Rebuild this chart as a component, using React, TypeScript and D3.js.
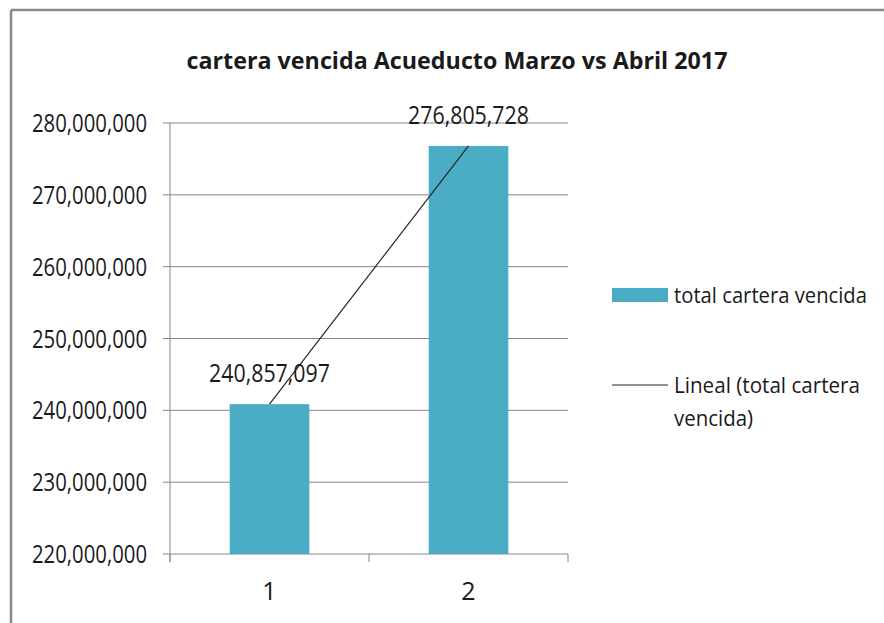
import React from "react";
import * as d3 from "d3";

const categories = ["1", "2"];
const values = [240857097, 276805728];
const yTicks = [220000000, 230000000, 240000000, 250000000, 260000000, 270000000, 280000000];
const title = "cartera vencida Acueducto Marzo vs Abril 2017";
const seriesName = "total cartera vencida";
const trendName = ["Lineal (total cartera", "vencida)"];

const FONT = "'Open Sans', 'DejaVu Sans Condensed', sans-serif";
const BAR = "#4BACC6";
const GRID = "#868686";
const TXT = "#1a1a1a";

export default function App() {
  const W = 884, H = 623;
  const left = 170, right = 568, top = 123, bottom = 554;
  const y = d3.scaleLinear().domain([220000000, 280000000]).range([bottom, top]);
  const x = d3.scaleBand().domain(categories).range([left, right]).paddingInner(0.6).paddingOuter(0.3);
  const fmt = d3.format(",");

  // linear trend (least squares over index 1..n)
  const xs = categories.map((_, i) => i + 1);
  const mx = d3.mean(xs)!;
  const my = d3.mean(values)!;
  const slope = d3.sum(xs.map((xi, i) => (xi - mx) * (values[i] - my))) / d3.sum(xs.map((xi) => (xi - mx) ** 2));
  const icpt = my - slope * mx;
  const trendPts = categories.map((c, i) => [x(c)! + x.bandwidth() / 2, y(icpt + slope * (i + 1))] as [number, number]);
  const line = d3.line();

  const xTickPos = [left, ...categories.slice(1).map((c, i) => (x(c)! + x(categories[i])! + x.bandwidth()) / 2), right];

  return (
    <svg width={W} height={H} style={{ position: "absolute", left: 0, top: 0, background: "#fff" }} fontFamily={FONT}>
      <rect x={0} y={0} width={W} height={H} fill="#fff" />
      {/* border */}
      <line x1={11} y1={10} x2={W} y2={10} stroke="#8a8a8a" strokeWidth={2.5} />
      <line x1={11} y1={10} x2={11} y2={H} stroke="#8a8a8a" strokeWidth={2.5} />
      {/* title */}
      <text x={457} y={69} textAnchor="middle" fontSize={23} fontWeight="bold" fill={TXT} textLength={541} lengthAdjust="spacingAndGlyphs">
        {title}
      </text>
      {/* gridlines and y ticks */}
      {yTicks.map((t) => (
        <g key={t}>
          <line x1={left - 7} x2={right} y1={y(t)} y2={y(t)} stroke={GRID} strokeWidth={1} />
          <text x={147} y={y(t) + 9} textAnchor="end" fontSize={25} fill={TXT} textLength={115} lengthAdjust="spacingAndGlyphs">
            {fmt(t)}
          </text>
        </g>
      ))}
      {/* y axis */}
      <line x1={left} x2={left} y1={top} y2={bottom + 8} stroke={GRID} strokeWidth={1} />
      {/* x ticks */}
      {xTickPos.map((p, i) => (
        <line key={i} x1={p} x2={p} y1={bottom} y2={bottom + 8} stroke={GRID} strokeWidth={1} />
      ))}
      {/* bars */}
      {categories.map((c, i) => (
        <rect key={c} x={x(c)} y={y(values[i])} width={x.bandwidth()} height={bottom - y(values[i])} fill={BAR} />
      ))}
      {/* x labels */}
      {categories.map((c) => (
        <text key={c} x={x(c)! + x.bandwidth() / 2} y={600} textAnchor="middle" fontSize={25} fill={TXT}>
          {c}
        </text>
      ))}
      {/* trendline */}
      <path d={line(trendPts)!} fill="none" stroke="#262626" strokeWidth={1.2} />
      {/* data labels */}
      {categories.map((c, i) => (
        <text key={c} x={x(c)! + x.bandwidth() / 2} y={y(values[i]) - 22} textAnchor="middle" fontSize={26} fill={TXT} textLength={121} lengthAdjust="spacingAndGlyphs">
          {fmt(values[i])}
        </text>
      ))}
      {/* legend */}
      <rect x={612} y={288} width={56} height={14} fill={BAR} />
      <text x={674} y={303} fontSize={21} fill={TXT} textLength={193} lengthAdjust="spacingAndGlyphs">{seriesName}</text>
      <line x1={612} x2={668} y1={385} y2={385} stroke="#262626" strokeWidth={1.2} />
      <text x={674} y={393} fontSize={21} fill={TXT} textLength={186} lengthAdjust="spacingAndGlyphs">{trendName[0]}</text>
      <text x={674} y={426} fontSize={21} fill={TXT} textLength={79} lengthAdjust="spacingAndGlyphs">{trendName[1]}</text>
    </svg>
  );
}
